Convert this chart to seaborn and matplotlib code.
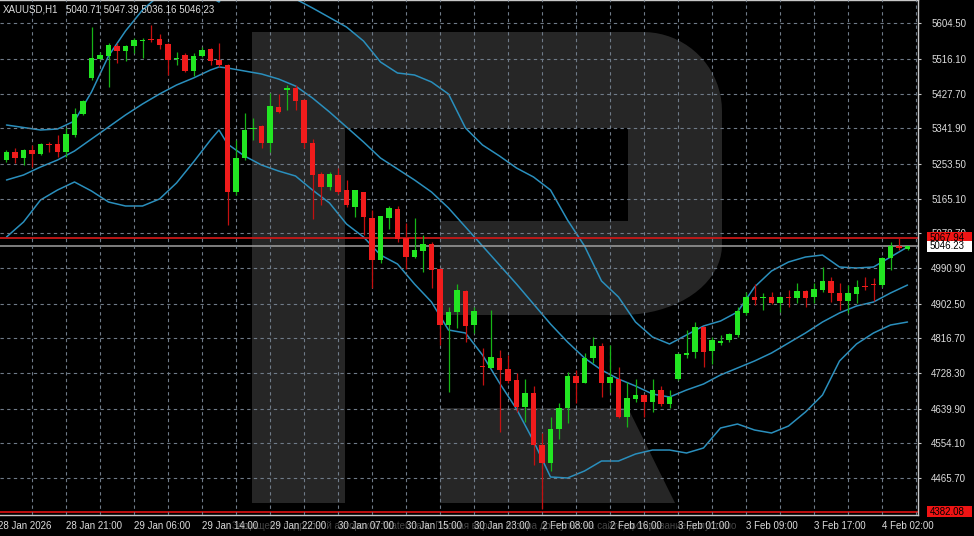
import matplotlib
matplotlib.use('Agg')
import matplotlib.pyplot as plt
import matplotlib.transforms as mtransforms
from matplotlib.patches import Polygon, Rectangle
import numpy as np
import pandas as pd
import seaborn as sns

# XAUUSD H1 candles, 28 Jan 2026 - 4 Feb 2026 (bar 0 = first visible bar)
symbol = 'XAUUSD,H1'
last_ohlc = '5040.71 5047.39 5036.16 5046.23'

opens = [5262.3, 5282.3, 5267.3, 5287.3, 5277.3, 5302.4, 5302.4, 5282.3, 5324.9, 5377.5,
         5467.6, 5515.1, 5522.6, 5547.7, 5535.1, 5547.7, 5560.2, 5566.4, 5565.2, 5552.7,
         5513.9, 5525.1, 5485.1, 5522.6, 5540.2, 5512.6, 5500.1, 5182.2, 5267.3, 5339.9,
         5347.4, 5304.9, 5395.0, 5437.5, 5442.5, 5412.5, 5304.9, 5227.3, 5194.7, 5224.8,
         5187.2, 5144.7, 5182.2, 5117.1, 5012.0, 5117.1, 5139.7, 5067.1, 5019.5, 5034.5,
         5052.1, 4989.5, 4849.3, 4881.9, 4934.4, 4849.3, 4746.7, 4741.7, 4766.7, 4739.2,
         4711.7, 4644.1, 4679.1, 4549.0, 4503.9, 4589.0, 4641.6, 4721.7, 4704.2, 4766.7,
         4796.8, 4704.2, 4714.2, 4619.0, 4664.1, 4674.1, 4656.6, 4686.6, 4651.6, 4714.2,
         4774.2, 4781.7, 4844.3, 4784.2, 4804.3, 4811.8, 4824.3, 4879.4, 4919.4, 4916.9,
         4919.4, 4904.4, 4919.4, 4916.9, 4934.4, 4919.4, 4936.9, 4959.5, 4929.4, 4909.4,
         4926.9, 4946.9, 4951.9, 4949.4, 5017.0, 5047.1, 5040.71]
highs = [5287.3, 5292.4, 5289.9, 5299.9, 5304.9, 5307.4, 5324.9, 5342.4, 5392.5, 5412.5,
         5595.2, 5532.6, 5555.2, 5555.2, 5550.2, 5567.7, 5567.7, 5600.2, 5577.7, 5555.2,
         5532.6, 5530.1, 5530.1, 5545.2, 5542.7, 5555.2, 5502.6, 5312.4, 5380.0, 5367.4,
         5349.9, 5430.0, 5427.5, 5450.0, 5450.0, 5415.0, 5314.9, 5232.3, 5232.3, 5242.3,
         5212.3, 5187.2, 5182.2, 5137.2, 5122.2, 5147.2, 5147.2, 5104.6, 5117.1, 5074.6,
         5057.1, 4992.0, 4894.4, 4951.9, 4936.9, 4894.4, 4791.8, 4886.9, 4786.7, 4774.2,
         4729.2, 4714.2, 4696.6, 4579.0, 4619.0, 4654.1, 4731.7, 4736.7, 4779.2, 4819.3,
         4804.3, 4799.3, 4744.2, 4706.7, 4714.2, 4676.6, 4714.2, 4696.6, 4686.6, 4779.2,
         4836.8, 4856.8, 4846.8, 4820.0, 4824.3, 4829.3, 4894.4, 4931.9, 4951.9, 4929.4,
         4931.9, 4921.9, 4936.9, 4954.5, 4936.9, 4954.5, 4994.5, 4969.5, 4954.5, 4949.4,
         4962.0, 4969.5, 4967.0, 5019.5, 5057.1, 5067.9, 5047.39]
lows = [5257.3, 5254.8, 5249.8, 5244.8, 5274.8, 5282.3, 5269.8, 5269.8, 5319.9, 5375.0,
        5462.6, 5512.6, 5445.0, 5505.1, 5510.1, 5530.1, 5517.6, 5557.7, 5540.2, 5475.1,
        5500.1, 5482.6, 5472.6, 5520.1, 5500.1, 5495.1, 5099.6, 5174.7, 5262.3, 5312.4,
        5292.4, 5282.3, 5380.0, 5387.5, 5387.5, 5292.4, 5114.6, 5149.7, 5187.2, 5177.2,
        5144.7, 5119.6, 5074.6, 4941.9, 5004.5, 5089.6, 5057.1, 4989.5, 5017.0, 4982.0,
        4941.9, 4799.3, 4681.6, 4841.8, 4806.8, 4829.3, 4699.1, 4741.7, 4581.5, 4704.2,
        4631.6, 4606.5, 4498.9, 4390.0, 4483.9, 4564.0, 4604.0, 4654.1, 4704.2, 4754.2,
        4669.1, 4681.6, 4616.5, 4594.0, 4656.6, 4619.0, 4631.6, 4646.6, 4641.6, 4711.7,
        4766.7, 4766.7, 4744.2, 4751.7, 4799.3, 4806.8, 4819.3, 4874.4, 4899.4, 4886.9,
        4901.9, 4881.9, 4894.4, 4904.4, 4894.4, 4904.4, 4931.9, 4906.9, 4886.9, 4879.4,
        4904.4, 4936.9, 4909.4, 4944.4, 4987.0, 5037.0, 5036.16]
closes = [5282.3, 5267.3, 5287.3, 5277.3, 5302.4, 5299.9, 5282.3, 5327.4, 5377.5, 5410.0,
          5517.6, 5525.1, 5550.2, 5535.1, 5547.7, 5562.7, 5563.9, 5562.7, 5550.2, 5512.6,
          5517.6, 5485.1, 5522.6, 5537.6, 5510.1, 5500.1, 5182.2, 5267.3, 5337.4, 5342.4,
          5304.9, 5397.5, 5382.5, 5442.5, 5410.0, 5304.9, 5224.8, 5194.7, 5227.3, 5182.2,
          5149.7, 5187.2, 5119.6, 5012.0, 5122.2, 5142.2, 5064.6, 5019.5, 5037.0, 5052.1,
          4987.0, 4849.3, 4881.9, 4936.9, 4846.8, 4884.4, 4744.2, 4769.2, 4736.7, 4709.2,
          4644.1, 4679.1, 4549.0, 4503.9, 4589.0, 4641.6, 4721.7, 4704.2, 4766.7, 4796.8,
          4704.2, 4719.2, 4619.0, 4666.6, 4674.1, 4656.6, 4686.6, 4651.6, 4669.1, 4776.7,
          4779.2, 4844.3, 4781.7, 4811.8, 4809.3, 4826.8, 4884.4, 4919.4, 4911.9, 4919.4,
          4904.4, 4919.4, 4916.9, 4934.4, 4916.9, 4939.4, 4959.5, 4929.4, 4909.4, 4929.4,
          4944.4, 4944.4, 4949.4, 5017.0, 5047.1, 5042.1, 5046.23]

# Bollinger bands
band_bars = [0, 2, 4, 6, 8, 10, 12, 14, 16, 18, 20, 22, 24, 25,
             26, 28, 30, 32, 34, 36, 38, 40, 42, 44, 46, 48, 50, 52, 54, 56, 58, 60, 62, 64,
             66, 68, 70, 72, 74, 76, 78, 80, 82, 84, 86, 88, 90, 92, 94, 96, 98, 100, 102, 104, 106]
upper_band = [5349.9, 5343.7, 5337.4, 5339.9, 5359.9, 5432.5, 5522.6, 5585.2, 5637.8, 5675.3,
              5700.3, 5687.8, 5670.3, 5657.8,
              5687.8, 5762.9, 5788.0, 5737.9, 5665.3, 5642.8, 5619.0, 5595.2, 5560.2, 5507.6,
              5480.1, 5475.1, 5457.6, 5427.5, 5342.4, 5299.9, 5272.3, 5242.3, 5219.8, 5187.2,
              5112.1, 5047.1, 4959.5, 4919.4, 4856.8, 4819.3, 4801.8, 4824.3, 4846.8, 4859.3,
              4881.9, 4944.4, 4984.5, 5007.0, 5019.5, 5024.5, 4994.5, 4992.0, 4994.5, 5019.5, 5044.6]
middle_band = [5212.3, 5224.8, 5244.8, 5262.3, 5284.8, 5314.9, 5344.9, 5375.0, 5402.5, 5427.5,
               5450.0, 5467.6, 5487.6, 5495.1,
               5492.6, 5485.1, 5477.6, 5465.1, 5447.5, 5417.5, 5382.5, 5344.9, 5307.4, 5267.3,
               5239.8, 5212.3, 5182.2, 5142.2, 5094.6, 5047.1, 4999.5, 4951.9, 4901.9, 4851.8,
               4806.8, 4766.7, 4736.7, 4714.2, 4696.6, 4676.6, 4669.1, 4686.6, 4701.6, 4724.2,
               4741.7, 4759.2, 4779.2, 4804.3, 4829.3, 4856.8, 4879.4, 4896.9, 4906.9, 4929.4, 4949.4]
lower_band = [5069.6, 5107.1, 5162.2, 5187.2, 5207.3, 5184.7, 5157.2, 5147.2, 5147.2, 5164.7,
              5204.8, 5257.3, 5312.4, 5337.4,
              5302.4, 5272.3, 5249.8, 5234.8, 5222.3, 5187.2, 5154.7, 5102.1, 5069.6, 5024.5,
              5002.0, 4951.9, 4906.9, 4836.8, 4829.3, 4774.2, 4704.2, 4639.1, 4559.0, 4468.9,
              4466.4, 4483.9, 4508.9, 4508.9, 4526.4, 4536.4, 4536.4, 4528.9, 4541.5, 4591.5,
              4601.5, 4586.5, 4579.0, 4596.5, 4631.6, 4674.1, 4759.2, 4801.8, 4829.3, 4849.3, 4856.8]

price_ticks = [5604.50, 5516.10, 5427.70, 5341.90, 5253.50, 5165.10, 5078.70,
               4990.90, 4902.50, 4816.70, 4728.30, 4639.90, 4554.10, 4465.70]
time_ticks = [-1, 7, 15, 23, 31, 39, 47, 55, 63, 71, 79, 87, 95, 103]
time_labels = ['28 Jan 2026', '28 Jan 21:00', '29 Jan 06:00', '29 Jan 14:00', '29 Jan 22:00',
               '30 Jan 07:00', '30 Jan 15:00', '30 Jan 23:00', '2 Feb 08:00', '2 Feb 16:00',
               '3 Feb 01:00', '3 Feb 09:00', '3 Feb 17:00', '4 Feb 02:00']

level_high = 5067.94
level_bid = 5046.23
level_low = 4382.08

watermark_text = ('Защищено подробной авторской Watermark. Полная версия обзора '
                  'доступна на сайте, цитирование допустимо')

BG = 'black'
GRID = '#6f7b88'
AXIS = '#c8c8c8'
TEXT = '#dcdcdc'
BAND = '#2a8fbd'
BULL, BULL_WICK = '#22e622', '#17b417'
BEAR, BEAR_WICK = '#f01c1c', '#c41010'
LOGO = '#262626'


def logo_patches(trans):
    # big grey "R" watermark, drawn in pixel units of the plot area
    arc1 = np.linspace(np.pi / 2, 0, 20)
    arc2 = np.linspace(0, -np.pi / 2, 20)
    bowl = [(345, 32), (643, 32)]
    bowl += [(643 + 79 * np.cos(t), 111 - 79 * np.sin(t)) for t in arc1]
    bowl += [(722, 245)]
    bowl += [(622 + 100 * np.cos(t), 245 - 70 * np.sin(t)) for t in arc2]
    bowl += [(440, 315), (440, 221), (628, 221), (628, 128), (345, 128)]
    stem = [(252, 32), (345, 32), (345, 503), (252, 503)]
    leg = [(440, 408), (628, 408), (675, 503), (440, 503)]
    return [Polygon(p, closed=True, transform=trans, facecolor=LOGO,
                    edgecolor='none', zorder=0) for p in (bowl, stem, leg)]


def main():
    sns.set_theme(style='dark', rc={'axes.facecolor': BG, 'figure.facecolor': BG})
    plt.rcParams['font.family'] = ['Liberation Sans', 'DejaVu Sans']

    fig = plt.figure(figsize=(9.74, 5.36), dpi=100)
    fig.patch.set_facecolor(BG)
    ax = fig.add_axes([0, 21 / 536, 918 / 974, 515 / 536])
    ax.set_facecolor(BG)

    # pixel transform for the watermark
    pix = mtransforms.Affine2D().scale(1 / 918, -1 / 515).translate(0, 1) + ax.transAxes
    for p in logo_patches(pix):
        ax.add_patch(p)

    # candles
    bars = np.arange(len(opens))
    o, h, l, c = map(np.array, (opens, highs, lows, closes))
    up = c >= o
    body_col = np.where(up, BULL, BEAR)
    wick_col = np.where(up, BULL_WICK, BEAR_WICK)
    ax.vlines(bars, l, h, colors=wick_col, linewidth=0.9, zorder=3)
    ax.bar(bars, np.maximum(np.abs(c - o), 2.5), bottom=np.minimum(o, c), width=0.6,
           color=body_col, linewidth=0, zorder=4)

    # bollinger bands
    bands = pd.DataFrame({'bar': band_bars, 'upper': upper_band,
                          'middle': middle_band, 'lower': lower_band})
    long = bands.melt(id_vars='bar', var_name='line', value_name='price')
    sns.lineplot(data=long, x='bar', y='price', hue='line', units='line', estimator=None,
                 palette={'upper': BAND, 'middle': BAND, 'lower': BAND},
                 linewidth=1.1, legend=False, ax=ax, zorder=2)

    # horizontal levels
    ax.axhline(level_high, color='#c81818', linewidth=1.3, zorder=2.5)
    ax.axhline(level_bid, color='#a0a0a0', linewidth=1.1, zorder=2.5)
    ax.axhline(level_low, color='#d01010', linewidth=1.3, zorder=2.5)

    ax.set_xlim(-6.5 / 8.5, 911.5 / 8.5)
    ax.set_ylim(5662.8 - 2.503 * 515, 5662.8)

    # grid
    ax.set_xticks([t for t in time_ticks if t >= 0])
    ax.set_xticks(np.arange(3, 108, 8), minor=True)
    ax.set_xticklabels([])
    ax.set_yticks(price_ticks)
    ax.set_yticklabels([f'{v:.2f}' for v in price_ticks])
    ax.grid(True, which='both', color=GRID, linewidth=0.8, linestyle=(0, (3, 3)), zorder=1)
    ax.set_axisbelow(False)
    for gl in ax.get_xgridlines() + ax.get_ygridlines() + ax.xaxis.get_minorticklines():
        gl.set_zorder(1)

    ax.yaxis.tick_right()
    ax.tick_params(axis='y', which='major', length=2.5, width=0.8, color=AXIS,
                   labelcolor=TEXT, labelsize=7, pad=7)
    ax.tick_params(axis='x', which='major', length=2.5, width=0.8, color=AXIS, direction='out')
    ax.tick_params(axis='x', which='minor', length=0)
    ax.set_xlabel('')
    ax.set_ylabel('')
    for side in ['left']:
        ax.spines[side].set_visible(False)
    for side in ['right', 'bottom', 'top']:
        ax.spines[side].set_visible(True)
        ax.spines[side].set_color(AXIS)
        ax.spines[side].set_linewidth(1)

    # time labels (left aligned at their tick like the terminal)
    xt = ax.get_xaxis_transform()
    for t, lab in zip(time_ticks, time_labels):
        ax.text(t, -11 / 515, lab, transform=xt, ha='left', va='center',
                fontsize=7, color=TEXT, clip_on=False, zorder=6)
    fig.text(232 / 974, 1 - 526 / 536, watermark_text, ha='left', va='center',
             fontsize=7, color='#9a9a9a', alpha=0.45)

    # price boxes on the right scale
    yt = ax.get_yaxis_transform()
    for level, face in [(level_high, '#f01414'), (level_bid, 'white'), (level_low, '#f01414')]:
        ax.add_patch(Rectangle((1 + 9 / 918, level - 13.1), 45 / 918, 26.3, transform=yt,
                               facecolor=face, edgecolor='none', clip_on=False, zorder=5))
        ax.text(1 + 12 / 918, level, f'{level:.2f}', transform=yt, ha='left', va='center',
                fontsize=7, color='black', clip_on=False, zorder=6)

    # header
    ax.text(3 / 918, 1 - 10 / 515, symbol, transform=ax.transAxes, ha='left', va='center',
            fontsize=7, color=TEXT, zorder=6)
    ax.text(66 / 918, 1 - 10 / 515, last_ohlc, transform=ax.transAxes, ha='left',
            va='center', fontsize=7, color=TEXT, zorder=6)

    fig.savefig('out.png', dpi=100, facecolor=BG)


if __name__ == '__main__':
    main()
